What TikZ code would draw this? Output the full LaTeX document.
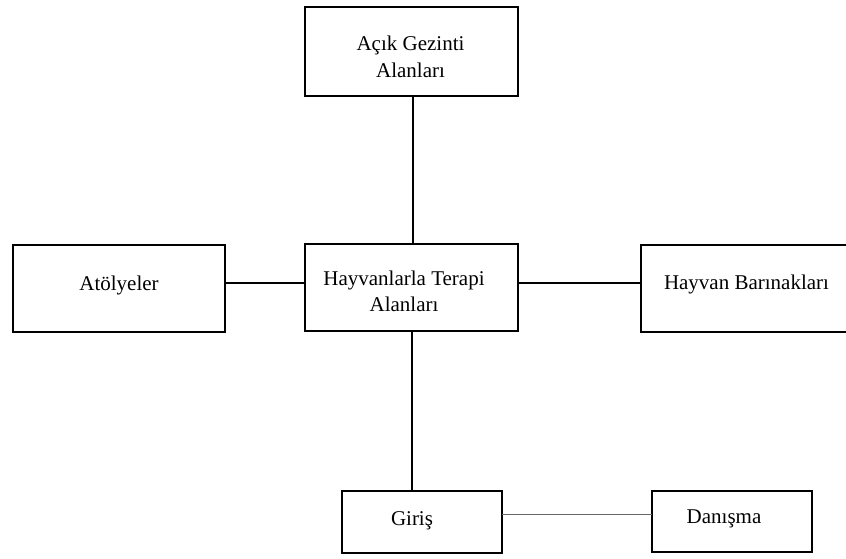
\documentclass[tikz,border=0pt]{standalone}
\usepackage{fontspec}
\setmainfont{Liberation Serif}
\begin{document}
\begin{tikzpicture}[x=1pt,y=-1pt,
  box/.style={draw=black, line width=1.4pt, inner sep=0pt, outer sep=0pt, anchor=north west},
  lbl/.style={inner sep=0pt, outer sep=0pt, anchor=base, align=center, font=\fontsize{21}{26.5}\selectfont},
  link/.style={draw=black, line width=1.4pt},
  thinlink/.style={draw=black!60, line width=1pt}]
\useasboundingbox (0,0) rectangle (846,558);
% boxes
\node[box, minimum width=213pt, minimum height=89pt] (T) at (305,7) {};
\node[box, minimum width=213pt, minimum height=87pt] (C) at (305,244) {};
\node[box, minimum width=212pt, minimum height=87pt] (L) at (13,245) {};
\node[box, minimum width=206pt, minimum height=87pt] (R) at (641,245) {};
\node[box, minimum width=160pt, minimum height=62pt] (G) at (342,491) {};
\node[box, minimum width=160pt, minimum height=61pt] (D) at (652,491) {};
% labels (base = baseline of the last line)
\node[lbl] (Tt) at (410.5,77) {Açık Gezinti\\Alanları};
\node[lbl] (Ct) at (404,311.5) {Hayvanlarla Terapi\\Alanları};
\node[lbl] (Lt) at (119,290) {Atölyeler};
\node[lbl] (Rt) at (746.5,289) {Hayvan Barınakları};
\node[lbl] (Gt) at (412,525) {Giriş};
\node[lbl] (Dt) at (724,523) {Danışma};
% connector guides
\coordinate (vtop) at (413,0);
\coordinate (vbot) at (412,0);
\coordinate (hmid) at (0,283);
\coordinate (hlow) at (0,514);
% connectors
\draw[link] (T.south -| vtop) -- (C.north -| vtop);
\draw[link] (L.east |- hmid) -- (C.west |- hmid);
\draw[link] (C.east |- hmid) -- (R.west |- hmid);
\draw[link] (C.south -| vbot) -- (G.north -| vbot);
\draw[thinlink] (G.east |- hlow) -- (D.west |- hlow);
\end{tikzpicture}
\end{document}
